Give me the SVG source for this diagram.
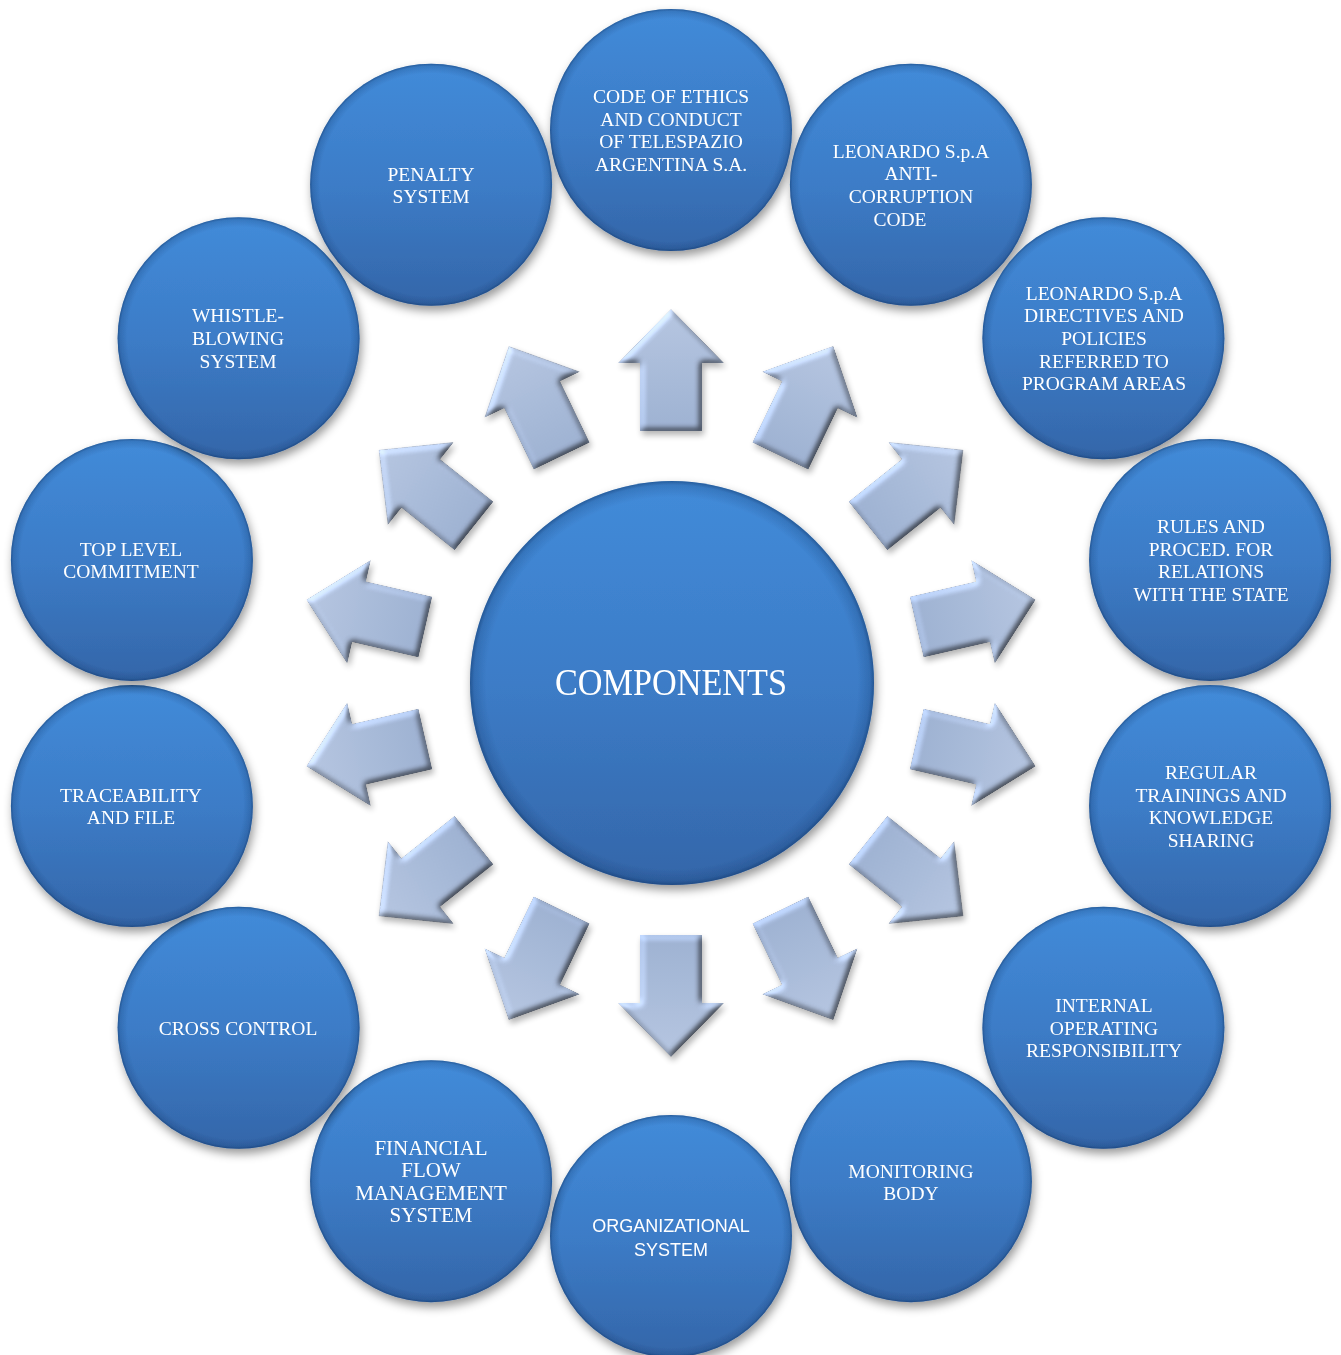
<svg xmlns="http://www.w3.org/2000/svg" xmlns:xlink="http://www.w3.org/1999/xlink" width="1341" height="1355" viewBox="0 0 1341 1355">
<defs>
  <style>
    .c { fill: url(#cg); }
    .rim { fill: url(#rim); }
    .t { font-family: "Liberation Serif", "Times New Roman", serif; font-size: 19.5px; fill: #ffffff; text-anchor: middle; }
    .ts { font-family: "Liberation Sans", Arial, sans-serif; font-size: 18px; fill: #ffffff; text-anchor: middle; }
    .tt { font-family: "Liberation Serif", "Times New Roman", serif; font-size: 21px; fill: #ffffff; text-anchor: middle; }
    .big { font-family: "Liberation Serif", "Times New Roman", serif; font-size: 37px; fill: #ffffff; text-anchor: middle; }
  </style>
  <linearGradient id="cg" x1="0" y1="0" x2="0" y2="1">
    <stop offset="0" stop-color="#428bd9"/>
    <stop offset="0.5" stop-color="#3c7cc7"/>
    <stop offset="1" stop-color="#3466a9"/>
  </linearGradient>
  <radialGradient id="rim" cx="0.5" cy="0.5" r="0.5">
    <stop offset="0.92" stop-color="#0b2f60" stop-opacity="0"/>
    <stop offset="0.98" stop-color="#0b2f60" stop-opacity="0.2"/>
    <stop offset="1" stop-color="#0b2f60" stop-opacity="0.5"/>
  </radialGradient>
  <linearGradient id="ag" x1="0" y1="0" x2="0" y2="1">
    <stop offset="0" stop-color="#b3c3de"/>
    <stop offset="1" stop-color="#9cafcf"/>
  </linearGradient>
  <filter id="shadow" x="-20%" y="-20%" width="140%" height="145%">
    <feDropShadow dx="2" dy="5" stdDeviation="5" flood-color="#000" flood-opacity="0.4"/>
  </filter>
  <filter id="abevel" x="-10%" y="-10%" width="120%" height="120%" color-interpolation-filters="sRGB">
    <feGaussianBlur in="SourceAlpha" stdDeviation="3" result="b"/>
    <feDiffuseLighting in="b" surfaceScale="4" diffuseConstant="1" lighting-color="#ffffff" result="d">
      <feDistantLight azimuth="225" elevation="45"/>
    </feDiffuseLighting>
    <feComposite in="SourceGraphic" in2="d" operator="arithmetic" k1="0.8" k2="0.45" k3="0" k4="0" result="lit"/>
    <feComposite in="lit" in2="SourceAlpha" operator="in" result="litc"/>
    <feGaussianBlur in="SourceAlpha" stdDeviation="3" result="sb"/>
    <feOffset in="sb" dx="2" dy="4" result="so"/>
    <feComponentTransfer in="so" result="sh"><feFuncA type="linear" slope="0.3"/></feComponentTransfer>
    <feMerge><feMergeNode in="sh"/><feMergeNode in="litc"/></feMerge>
  </filter>
  <polygon id="arrow" points="671,309 724,363 702,363 702,431 640,431 640,363 618,363" fill="url(#ag)"/>
</defs>
<rect x="0" y="0" width="1341" height="1355" fill="#ffffff"/>

<g id="connectors" filter="url(#abevel)">
  <use xlink:href="#arrow" href="#arrow" transform="rotate(0 671 683)"/>
  <use xlink:href="#arrow" href="#arrow" transform="rotate(25.714 671 683)"/>
  <use xlink:href="#arrow" href="#arrow" transform="rotate(51.429 671 683)"/>
  <use xlink:href="#arrow" href="#arrow" transform="rotate(77.143 671 683)"/>
  <use xlink:href="#arrow" href="#arrow" transform="rotate(102.857 671 683)"/>
  <use xlink:href="#arrow" href="#arrow" transform="rotate(128.571 671 683)"/>
  <use xlink:href="#arrow" href="#arrow" transform="rotate(154.286 671 683)"/>
  <use xlink:href="#arrow" href="#arrow" transform="rotate(180 671 683)"/>
  <use xlink:href="#arrow" href="#arrow" transform="rotate(205.714 671 683)"/>
  <use xlink:href="#arrow" href="#arrow" transform="rotate(231.429 671 683)"/>
  <use xlink:href="#arrow" href="#arrow" transform="rotate(257.143 671 683)"/>
  <use xlink:href="#arrow" href="#arrow" transform="rotate(282.857 671 683)"/>
  <use xlink:href="#arrow" href="#arrow" transform="rotate(308.571 671 683)"/>
  <use xlink:href="#arrow" href="#arrow" transform="rotate(334.286 671 683)"/>
</g>

<g id="node-center" filter="url(#shadow)">
  <circle class="c" cx="672" cy="683" r="202"/>
  <circle class="rim" cx="672" cy="683" r="202"/>
  <text class="big" x="671" y="695" textLength="232" lengthAdjust="spacingAndGlyphs">COMPONENTS</text>
</g>

<g id="node-code-ethics" filter="url(#shadow)">
  <circle class="c" cx="671" cy="130" r="121"/><circle class="rim" cx="671" cy="130" r="121"/>
  <text class="t" x="671" y="102.9">CODE OF ETHICS</text>
  <text class="t" x="671" y="125.5">AND CONDUCT</text>
  <text class="t" x="671" y="148.1">OF TELESPAZIO</text>
  <text class="t" x="671" y="170.7">ARGENTINA S.A.</text>
</g>

<g id="node-anticorruption" filter="url(#shadow)">
  <circle class="c" cx="910.9" cy="184.8" r="121"/><circle class="rim" cx="910.9" cy="184.8" r="121"/>
  <text class="t" x="911" y="157.7">LEONARDO S.p.A</text>
  <text class="t" x="911" y="180.3">ANTI-</text>
  <text class="t" x="911" y="202.9">CORRUPTION</text>
  <text class="t" x="900" y="225.5">CODE</text>
</g>

<g id="node-directives" filter="url(#shadow)">
  <circle class="c" cx="1103.4" cy="338.2" r="121"/><circle class="rim" cx="1103.4" cy="338.2" r="121"/>
  <text class="t" x="1104" y="299.8">LEONARDO S.p.A</text>
  <text class="t" x="1104" y="322.4">DIRECTIVES AND</text>
  <text class="t" x="1104" y="345">POLICIES</text>
  <text class="t" x="1104" y="367.6">REFERRED TO</text>
  <text class="t" x="1104" y="390.2">PROGRAM AREAS</text>
</g>

<g id="node-rules" filter="url(#shadow)">
  <circle class="c" cx="1210.1" cy="559.9" r="121"/><circle class="rim" cx="1210.1" cy="559.9" r="121"/>
  <text class="t" x="1211" y="532.9">RULES AND</text>
  <text class="t" x="1211" y="555.5">PROCED. FOR</text>
  <text class="t" x="1211" y="578.1">RELATIONS</text>
  <text class="t" x="1211" y="600.7">WITH THE STATE</text>
</g>

<g id="node-trainings" filter="url(#shadow)">
  <circle class="c" cx="1210.1" cy="806.1" r="121"/><circle class="rim" cx="1210.1" cy="806.1" r="121"/>
  <text class="t" x="1211" y="779">REGULAR</text>
  <text class="t" x="1211" y="801.6">TRAININGS AND</text>
  <text class="t" x="1211" y="824.2">KNOWLEDGE</text>
  <text class="t" x="1211" y="846.8">SHARING</text>
</g>

<g id="node-internal" filter="url(#shadow)">
  <circle class="c" cx="1103.4" cy="1027.8" r="121"/><circle class="rim" cx="1103.4" cy="1027.8" r="121"/>
  <text class="t" x="1104" y="1012.2">INTERNAL</text>
  <text class="t" x="1104" y="1034.8">OPERATING</text>
  <text class="t" x="1104" y="1057.4">RESPONSIBILITY</text>
</g>

<g id="node-monitoring" filter="url(#shadow)">
  <circle class="c" cx="910.9" cy="1181.2" r="121"/><circle class="rim" cx="910.9" cy="1181.2" r="121"/>
  <text class="t" x="911" y="1177.5">MONITORING</text>
  <text class="t" x="911" y="1200.1">BODY</text>
</g>

<g id="node-organizational" filter="url(#shadow)">
  <circle class="c" cx="671" cy="1236" r="121"/><circle class="rim" cx="671" cy="1236" r="121"/>
  <text class="ts" x="671" y="1232">ORGANIZATIONAL</text>
  <text class="ts" x="671" y="1255.5">SYSTEM</text>
</g>

<g id="node-financial" filter="url(#shadow)">
  <circle class="c" cx="431.1" cy="1181.2" r="121"/><circle class="rim" cx="431.1" cy="1181.2" r="121"/>
  <text class="tt" x="431" y="1155">FINANCIAL</text>
  <text class="tt" x="431" y="1177.3">FLOW</text>
  <text class="tt" x="431" y="1199.5">MANAGEMENT</text>
  <text class="tt" x="431" y="1221.7">SYSTEM</text>
</g>

<g id="node-cross" filter="url(#shadow)">
  <circle class="c" cx="238.6" cy="1027.8" r="121"/><circle class="rim" cx="238.6" cy="1027.8" r="121"/>
  <text class="t" x="238" y="1034.8">CROSS CONTROL</text>
</g>

<g id="node-traceability" filter="url(#shadow)">
  <circle class="c" cx="131.9" cy="806.1" r="121"/><circle class="rim" cx="131.9" cy="806.1" r="121"/>
  <text class="t" x="131" y="801.6">TRACEABILITY</text>
  <text class="t" x="131" y="824.2">AND FILE</text>
</g>

<g id="node-toplevel" filter="url(#shadow)">
  <circle class="c" cx="131.9" cy="559.9" r="121"/><circle class="rim" cx="131.9" cy="559.9" r="121"/>
  <text class="t" x="131" y="555.6">TOP LEVEL</text>
  <text class="t" x="131" y="578.2">COMMITMENT</text>
</g>

<g id="node-whistle" filter="url(#shadow)">
  <circle class="c" cx="238.6" cy="338.2" r="121"/><circle class="rim" cx="238.6" cy="338.2" r="121"/>
  <text class="t" x="238" y="322.4">WHISTLE-</text>
  <text class="t" x="238" y="345">BLOWING</text>
  <text class="t" x="238" y="367.6">SYSTEM</text>
</g>

<g id="node-penalty" filter="url(#shadow)">
  <circle class="c" cx="431.1" cy="184.8" r="121"/><circle class="rim" cx="431.1" cy="184.8" r="121"/>
  <text class="t" x="431" y="180.5">PENALTY</text>
  <text class="t" x="431" y="203.1">SYSTEM</text>
</g>
</svg>
